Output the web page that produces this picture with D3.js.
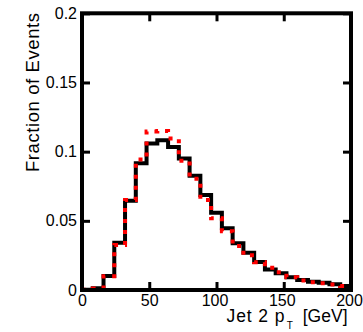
<!DOCTYPE html>
<html>
<head>
<meta charset="utf-8">
<script src="https://cdn.jsdelivr.net/npm/d3@7"></script>
<style>
  html, body { margin: 0; padding: 0; background: #fff; }
  svg { display: block; }
  text { font-family: "Liberation Sans", Arial, Helvetica, sans-serif; fill: #000; }
</style>
</head>
<body>
<svg id="chart" width="363" height="332"></svg>
<script>
// Bin edges of the jet-2 pT histogram (GeV), 8 GeV wide
const binEdges = [0, 8, 16, 24, 32, 40, 48, 56, 64, 72, 80, 88, 96, 104,
                  112, 120, 128, 136, 144, 152, 160, 168, 176, 184, 192, 200];

// Normalised event fractions per bin (solid black sample)
const blackFractions = [0.0002, 0.0012, 0.0101, 0.0342, 0.0645, 0.0916, 0.1059,
                        0.1082, 0.1034, 0.0950, 0.0826, 0.0687, 0.0559, 0.0446,
                        0.0338, 0.0270, 0.0202, 0.0148, 0.0121, 0.0092, 0.0072,
                        0.0060, 0.0053, 0.0041, 0.0029];

// Normalised event fractions per bin (dashed red sample)
const redFractions = [0.0002, 0.0010, 0.0100, 0.0325, 0.0650, 0.0943, 0.1146,
                      0.1149, 0.1095, 0.0935, 0.0805, 0.0650, 0.0518, 0.0425,
                      0.0318, 0.0252, 0.0200, 0.0160, 0.0128, 0.0092, 0.0068,
                      0.0056, 0.0048, 0.0039, 0.0029];

const xTicks = [0, 50, 100, 150, 200];
const yTicks = [0, 0.05, 0.1, 0.15, 0.2];
const yTickLabels = ["0", "0.05", "0.1", "0.15", "0.2"];

const svg = d3.select("#chart");

const plotLeft = 82, plotRight = 351, plotTop = 13.3, plotBottom = 290;
const x = d3.scaleLinear().domain([0, 200]).range([plotLeft, plotRight]);
const y = d3.scaleLinear().domain([0, 0.2]).range([plotBottom, plotTop]);

// Step outline of a histogram, closed down to zero at both ends
function stepPoints(values) {
  const pts = [[binEdges[0], 0]];
  values.forEach((v, i) => pts.push([binEdges[i], v]));
  pts.push([binEdges[binEdges.length - 1], values[values.length - 1]]);
  pts.push([binEdges[binEdges.length - 1], 0]);
  return pts;
}
const step = d3.line()
  .x(d => x(d[0]))
  .y(d => y(d[1]))
  .curve(d3.curveStepAfter);

const plot = svg.append("g");
plot.append("path")
  .attr("d", step(stepPoints(blackFractions)))
  .attr("fill", "none")
  .attr("stroke", "#000")
  .attr("stroke-width", 4)
  .attr("stroke-linejoin", "miter");

plot.append("path")
  .attr("d", step(stepPoints(redFractions)))
  .attr("fill", "none")
  .attr("stroke", "#ff0000")
  .attr("stroke-width", 4)
  .attr("stroke-dasharray", "4,7")
  .attr("stroke-linejoin", "miter");

// Axes: inward ticks on all four sides, labels on bottom and left
function styleAxis(g) {
  g.select(".domain").remove();
  g.selectAll(".tick line").attr("stroke", "#000").attr("stroke-width", 3);
  g.selectAll(".tick text").style("font-size", "16px");
}

svg.append("g")
  .attr("transform", `translate(0,${plotBottom})`)
  .call(d3.axisBottom(x).tickValues(xTicks).tickSizeInner(-8).tickSizeOuter(0)
        .tickPadding(5).tickFormat(d3.format("d")))
  .call(styleAxis)
  .call(g => g.selectAll(".tick text").attr("dx", d => d >= 100 ? -2 : 0));

svg.append("g")
  .attr("transform", `translate(${plotLeft},0)`)
  .call(d3.axisLeft(y).tickValues(yTicks).tickSizeInner(-8).tickSizeOuter(0)
        .tickPadding(5).tickFormat((d, i) => yTickLabels[i]))
  .call(styleAxis);

svg.append("g")
  .attr("transform", `translate(0,${plotTop})`)
  .call(d3.axisTop(x).tickValues(xTicks).tickSizeInner(-8).tickSizeOuter(0).tickFormat(""))
  .call(styleAxis);

svg.append("g")
  .attr("transform", `translate(${plotRight},0)`)
  .call(d3.axisRight(y).tickValues(yTicks).tickSizeInner(-8).tickSizeOuter(0).tickFormat(""))
  .call(styleAxis);

// Frame
svg.append("rect")
  .attr("x", plotLeft).attr("y", plotTop)
  .attr("width", plotRight - plotLeft).attr("height", plotBottom - plotTop)
  .attr("fill", "none")
  .attr("stroke", "#000")
  .attr("stroke-width", 4);

// Axis titles (x title set in three pieces: main text, subscript, unit)
const titleSize = "17.5px";
svg.append("text")
  .attr("x", 226.5).attr("y", 322)
  .attr("textLength", 58).attr("lengthAdjust", "spacing")
  .style("font-size", titleSize)
  .text("Jet 2 p");
svg.append("text")
  .attr("x", 286.8).attr("y", 328.8)
  .style("font-size", "10px")
  .text("T");
svg.append("text")
  .attr("x", 347.5).attr("y", 322)
  .attr("text-anchor", "end")
  .style("font-size", titleSize)
  .text("[GeV]");

svg.append("text")
  .attr("transform", "translate(39,172) rotate(-90)")
  .attr("textLength", 159).attr("lengthAdjust", "spacing")
  .style("font-size", "18.5px")
  .text("Fraction of Events");
</script>
</body>
</html>
